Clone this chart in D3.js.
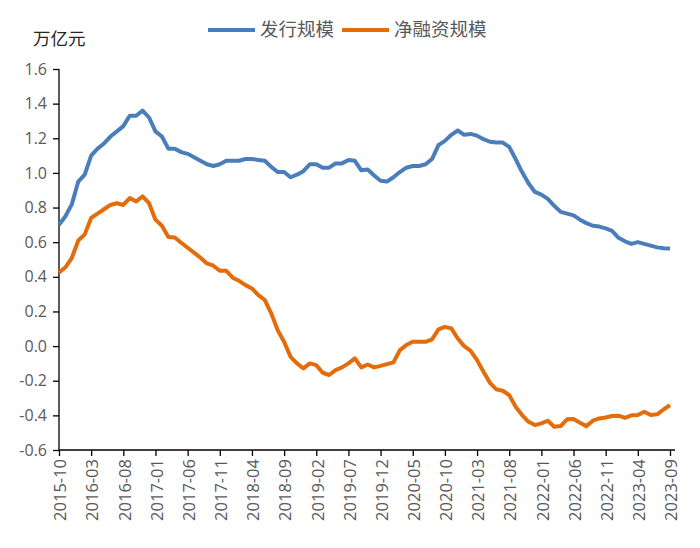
<!DOCTYPE html>
<html>
<head>
<meta charset="utf-8">
<script src="https://cdn.jsdelivr.net/npm/d3@7"></script>
<style>
  body { margin: 0; background: #fff; }
  svg { display: block; }
</style>
</head>
<body>
<div id="chart"></div>
<script>
// months 2015-10 .. 2023-09
const months = [];
for (let k = 0; k < 96; k++) {
  const y = 2015 + Math.floor((9 + k) / 12);
  const m = (9 + k) % 12 + 1;
  months.push(y + '-' + (m < 10 ? '0' + m : m));
}

// 发行规模 (万亿元)
const issuance = [
  0.70, 0.75, 0.82, 0.95, 0.99, 1.10, 1.14, 1.17, 1.21, 1.24,
  1.27, 1.33, 1.33, 1.36, 1.32, 1.24, 1.21, 1.14, 1.14, 1.12,
  1.11, 1.09, 1.07, 1.05, 1.04, 1.05, 1.07, 1.07, 1.07, 1.08,
  1.08, 1.075, 1.07, 1.035, 1.005, 1.005, 0.975, 0.99, 1.01, 1.05,
  1.05, 1.03, 1.03, 1.055, 1.055, 1.075, 1.07, 1.015, 1.02, 0.985,
  0.955, 0.95, 0.975, 1.005, 1.03, 1.04, 1.04, 1.05, 1.08, 1.16,
  1.185, 1.22, 1.245, 1.22, 1.225, 1.215, 1.195, 1.18, 1.175, 1.175,
  1.15, 1.08, 1.005, 0.94, 0.89, 0.875, 0.85, 0.81, 0.775, 0.765,
  0.755, 0.73, 0.71, 0.695, 0.69, 0.68, 0.665, 0.625, 0.605, 0.59,
  0.60, 0.59, 0.58, 0.57, 0.565, 0.563
];

// 净融资规模 (万亿元)
const netFinancing = [
  0.425, 0.455, 0.51, 0.61, 0.645, 0.74, 0.765, 0.79, 0.815, 0.825,
  0.815, 0.855, 0.835, 0.865, 0.825, 0.73, 0.695, 0.63, 0.627, 0.597,
  0.568, 0.54, 0.51, 0.477, 0.464, 0.435, 0.435, 0.395, 0.377, 0.352,
  0.333, 0.294, 0.266, 0.189, 0.092, 0.025, -0.062, -0.10, -0.129, -0.10,
  -0.11, -0.154, -0.167, -0.139, -0.123, -0.10, -0.071, -0.123, -0.106, -0.123,
  -0.114, -0.104, -0.094, -0.023, 0.006, 0.025, 0.025, 0.025, 0.039, 0.096,
  0.111, 0.102, 0.044, 0.0, -0.027, -0.081, -0.148, -0.212, -0.25, -0.258,
  -0.283, -0.35, -0.398, -0.437, -0.456, -0.446, -0.431, -0.466, -0.462, -0.423,
  -0.421, -0.443, -0.462, -0.431, -0.418, -0.412, -0.404, -0.402, -0.414, -0.40,
  -0.398, -0.379, -0.398, -0.394, -0.366, -0.341
];

const yTicks = [1.6, 1.4, 1.2, 1.0, 0.8, 0.6, 0.4, 0.2, 0.0, -0.2, -0.4, -0.6];
const xTickLabels = months.filter((d, i) => i % 5 === 0);

const seriesNames = ['发行规模', '净融资规模'];
const colors = ['#4a7ebb', '#e46c0a'];

const W = 700, H = 548;
const numFont = '"Open Sans", "Liberation Sans", sans-serif';
const cjkFont = '"Noto Sans CJK SC", "Noto Sans", sans-serif';

const svg = d3.select('#chart').append('svg')
  .attr('width', W)
  .attr('height', H);

const x = d3.scalePoint().domain(months).range([59, 670]);
const y = d3.scaleLinear().domain([-0.6, 1.6]).range([450, 69]);

// Y axis
const yAxis = d3.axisLeft(y)
  .tickValues(yTicks)
  .tickSize(6)
  .tickPadding(6)
  .tickFormat(v => v.toFixed(1));

const gy = svg.append('g')
  .attr('transform', 'translate(59,0)')
  .call(yAxis);
gy.select('.domain').remove();
gy.selectAll('line').attr('stroke', '#000').attr('stroke-width', 1.3);
gy.selectAll('text')
  .attr('fill', '#595959')
  .style('font-family', numFont)
  .style('font-size', '16px');

svg.append('line')
  .attr('x1', 59).attr('x2', 59)
  .attr('y1', y(1.6)).attr('y2', y(-0.6))
  .attr('stroke', '#000').attr('stroke-width', 1.3);

// X axis
const xAxis = d3.axisBottom(x)
  .tickValues(xTickLabels)
  .tickSize(6)
  .tickPadding(0);

const gx = svg.append('g')
  .attr('transform', 'translate(0,' + y(-0.6) + ')')
  .call(xAxis);
gx.select('.domain').remove();
gx.selectAll('line').attr('stroke', '#000').attr('stroke-width', 1.3);
gx.selectAll('text')
  .attr('fill', '#595959')
  .style('font-family', numFont)
  .style('font-size', '16.5px')
  .attr('text-anchor', 'end')
  .attr('transform', 'rotate(-90)')
  .attr('x', -9)
  .attr('y', 1)
  .attr('dy', '0.35em');

svg.append('line')
  .attr('x1', 59).attr('x2', 675)
  .attr('y1', y(-0.6)).attr('y2', y(-0.6))
  .attr('stroke', '#000').attr('stroke-width', 1.3);

// lines
const line = d3.line()
  .x((d, i) => x(months[i]))
  .y(d => y(d));

[issuance, netFinancing].forEach((s, k) => {
  svg.append('path')
    .datum(s)
    .attr('fill', 'none')
    .attr('stroke', colors[k])
    .attr('stroke-width', 4)
    .attr('stroke-linejoin', 'round')
    .attr('d', line);
});

// unit label
svg.append('text')
  .attr('x', 33)
  .attr('y', 45)
  .attr('fill', '#262626')
  .style('font-family', cjkFont)
  .style('font-size', '17.5px')
  .text('万亿元');

// legend
const legendX = [208, 342];
seriesNames.forEach((name, k) => {
  const lx = legendX[k];
  svg.append('line')
    .attr('x1', lx).attr('x2', lx + 47)
    .attr('y1', 30).attr('y2', 30)
    .attr('stroke', colors[k])
    .attr('stroke-width', 4);
  svg.append('text')
    .attr('x', lx + 52)
    .attr('y', 30)
    .attr('dy', '0.35em')
    .attr('fill', '#595959')
    .style('font-family', cjkFont)
    .style('font-size', '18.5px')
    .text(name);
});
</script>
</body>
</html>
